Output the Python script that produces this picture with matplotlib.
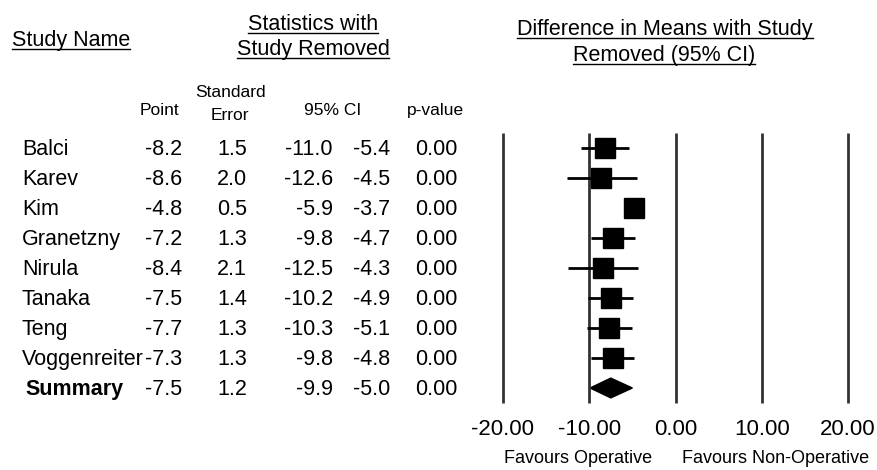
import matplotlib
matplotlib.use("Agg")
import matplotlib.pyplot as plt
from matplotlib.lines import Line2D
from matplotlib.patches import Polygon
import matplotlib.transforms as mtransforms

plt.rcParams["font.family"] = ["Liberation Sans", "DejaVu Sans"]

# ---- data ----
studies = ["Balci", "Karev", "Kim", "Granetzny", "Nirula", "Tanaka", "Teng", "Voggenreiter"]
point = [-8.2, -8.6, -4.8, -7.2, -8.4, -7.5, -7.7, -7.3]
std_err = [1.5, 2.0, 0.5, 1.3, 2.1, 1.4, 1.3, 1.3]
ci_low = [-11.0, -12.6, -5.9, -9.8, -12.5, -10.2, -10.3, -9.8]
ci_high = [-5.4, -4.5, -3.7, -4.7, -4.3, -4.9, -5.1, -4.8]
p_values = [0.00, 0.00, 0.00, 0.00, 0.00, 0.00, 0.00, 0.00]

summary_point = -7.5
summary_se = 1.2
summary_low = -9.9
summary_high = -5.0
summary_p = 0.00

ticks = [-20, -10, 0, 10, 20]

W, H = 877, 470
fig = plt.figure(figsize=(W / 100, H / 100), dpi=100)


def fx(px):
    return px / W


def fy(py):
    return 1 - py / H


n = len(studies)
# forest axes: -20 at x=503px, 20 at x=848px, rows 30px apart starting at 148px
ax = fig.add_axes([fx(503), fy(403), 345 / W, 270 / H])
ax.set_xlim(-20, 20)
ax.set_ylim(n + 0.5, -0.5)
ax.axis("off")

ax.vlines(ticks, -0.5, n + 0.5, color="#333333", lw=2, clip_on=False)
rows = list(range(n))
ax.hlines(rows, ci_low, ci_high, color="black", lw=2)
ax.plot(point, rows, "s", ms=13.7, color="black")

half = 0.33
diamond = Polygon([(summary_low, n), (summary_point, n - half),
                   (summary_high, n), (summary_point, n + half)],
                  closed=True, color="black")
ax.add_patch(diamond)

for t in ticks:
    ax.text(t, n + 0.5 + 32 / 30, f"{t:.2f}", ha="center", va="baseline",
            fontsize=16, clip_on=False)

fig.text(fx(578), fy(463), "Favours Operative", ha="center", va="baseline", fontsize=13)
fig.text(fx(776), fy(463), "Favours Non-Operative", ha="center", va="baseline", fontsize=13)

# ---- table on the left ----
tr = mtransforms.blended_transform_factory(fig.transFigure, ax.transData)
off = 7 / 30  # baseline below row centre
fs = 15.5
for i in range(n):
    y = i + off
    fig.text(fx(22), y, studies[i], transform=tr, va="baseline", fontsize=fs)
    fig.text(fx(182), y, f"{point[i]:.1f}", transform=tr, ha="right", va="baseline", fontsize=fs)
    fig.text(fx(232), y, f"{std_err[i]:.1f}", transform=tr, ha="center", va="baseline", fontsize=fs)
    fig.text(fx(333), y, f"{ci_low[i]:.1f}", transform=tr, ha="right", va="baseline", fontsize=fs)
    fig.text(fx(390), y, f"{ci_high[i]:.1f}", transform=tr, ha="right", va="baseline", fontsize=fs)
    fig.text(fx(457), y, f"{p_values[i]:.2f}", transform=tr, ha="right", va="baseline", fontsize=fs)

y = n + off
fig.text(fx(25), y, "Summary", transform=tr, va="baseline", fontsize=fs, fontweight="bold")
fig.text(fx(182), y, f"{summary_point:.1f}", transform=tr, ha="right", va="baseline", fontsize=fs)
fig.text(fx(232), y, f"{summary_se:.1f}", transform=tr, ha="center", va="baseline", fontsize=fs)
fig.text(fx(333), y, f"{summary_low:.1f}", transform=tr, ha="right", va="baseline", fontsize=fs)
fig.text(fx(390), y, f"{summary_high:.1f}", transform=tr, ha="right", va="baseline", fontsize=fs)
fig.text(fx(457), y, f"{summary_p:.2f}", transform=tr, ha="right", va="baseline", fontsize=fs)

# column sub-headers
sub = 12.5
fig.text(fx(159), fy(115), "Point", ha="center", va="baseline", fontsize=sub)
fig.text(fx(230), fy(97), "Standard", ha="center", va="baseline", fontsize=sub)
fig.text(fx(230), fy(120), "Error", ha="center", va="baseline", fontsize=sub)
fig.text(fx(333), fy(115), "95% CI", ha="center", va="baseline", fontsize=sub)
fig.text(fx(435), fy(115), "p-value", ha="center", va="baseline", fontsize=sub)

# underlined headers: (x px, baseline px, text, ha)
headers = [
    (12, 46, "Study Name", "left"),
    (313, 30, "Statistics with", "center"),
    (313, 55, "Study Removed", "center"),
    (665, 35, "Difference in Means with Study", "center"),
    (664, 61, "Removed (95% CI)", "center"),
]
hfs = 15.5
head_texts = []
for x, yb, s, ha in headers:
    t = fig.text(fx(x), fy(yb), s, ha=ha, va="baseline", fontsize=hfs)
    head_texts.append((t, yb))

fig.canvas.draw()
renderer = fig.canvas.get_renderer()
for t, yb in head_texts:
    bb = t.get_window_extent(renderer)
    uy = fy(yb + 3)
    fig.add_artist(Line2D([bb.x0 / W, bb.x1 / W], [uy, uy], color="black", lw=1))

fig.savefig("out.png", dpi=100)
